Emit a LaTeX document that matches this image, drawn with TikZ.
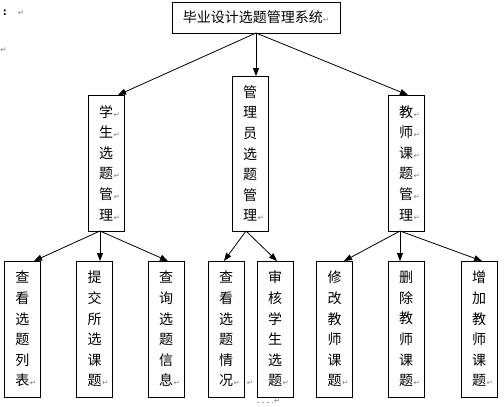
\documentclass[tikz,border=0pt]{standalone}
\usepackage{fontspec}
\newfontfamily\cjk{Noto Sans CJK SC}
\newfontfamily\djv{DejaVu Sans}
\usetikzlibrary{arrows.meta}
\newcommand\retmark{\rlap{\kern0.5pt\textcolor{gray}{\djv\fontsize{7.5}{7.5}\selectfont ↵}}}
\newcommand\retfree{\textcolor{gray}{\djv\fontsize{7.5}{7.5}\selectfont ↵}}
\tikzset{
  box/.style={draw, line width=0.8pt, minimum width=36pt, inner sep=0pt, outer sep=0pt,
    align=center, font=\cjk\fontsize{14}{20.6}\selectfont},
  arr/.style={line width=0.8pt, -{Triangle[length=8pt,width=6pt]}},
  fmtmark/.style={inner sep=0pt, outer sep=0pt}
}
\begin{document}
\begin{tikzpicture}[x=1pt,y=-1pt]
\useasboundingbox (0,0) rectangle (504,407);
% top
\node[box, minimum width=168pt, minimum height=31pt] (top) at (256,17.5) {毕业设计选题管理系统\retfree};
% second level
\node[box, minimum height=136pt] (stu) at (106,163) {学\retmark\\生\retmark\\选\\题\retmark\\管\retmark\\理\retmark};
\node[box, minimum height=155pt] (adm) at (250,153.5) {管\\理\\员\\选\\题\\管\\理\retmark};
\node[box, minimum height=136pt] (tea) at (406,163) {教\retmark\\师\retmark\\课\retmark\\题\retmark\\管\retmark\\理\retmark};
% third level
\node[box, minimum height=136pt] (b1) at (22.5,329) {查\\看\\选\\题\\列\\表\retmark};
\node[box, minimum height=136pt] (b2) at (94.5,329) {提\\交\\所\\选\\课\\题\retmark};
\node[box, minimum height=136pt] (b3) at (166,329) {查\\询\\选\\题\\信\\息\retmark};
\node[box, minimum height=136pt] (b4) at (226,329) {查\\看\\选\\题\\情\\况\retmark};
\node[box, minimum height=136pt] (b5) at (275,329) {审\\核\\学\\生\\选\\题\retmark};
\node[box, minimum height=136pt] (b6) at (334.5,329) {修\\改\\教\\师\\课\\题\retmark};
\node[box, minimum height=136pt] (b7) at (406,329) {删\\除\\教\\师\\课\\题\retmark};
\node[box, minimum height=136pt] (b8) at (479,329) {增\\加\\教\\师\\课\\题\retmark};
% arrows
\draw[arr] (top.south) -- ([xshift=12pt]stu.north);
\draw[arr] (top.south) -- ([xshift=6pt]adm.north);
\draw[arr] (top.south) -- ([xshift=2pt]tea.north);
\draw[arr] ([xshift=-6pt]stu.south) -- ([xshift=11.5pt]b1.north);
\draw[arr] ([xshift=-6pt]stu.south) -- ([xshift=5.5pt]b2.north);
\draw[arr] ([xshift=-6pt]stu.south) -- ([xshift=2pt]b3.north);
\draw[arr] ([xshift=-4pt]adm.south) -- ([xshift=-2pt]b4.north);
\draw[arr] ([xshift=-4pt]adm.south) -- ([xshift=2pt]b5.north);
\draw[arr] ([xshift=-6pt]tea.south) -- ([xshift=9.5pt]b6.north);
\draw[arr] ([xshift=-6pt]tea.south) -- ([xshift=-6pt]b7.north);
\draw[arr] ([xshift=-6pt]tea.south) -- ([xshift=3pt]b8.north);
% stray formatting marks
\node[fmtmark, font=\cjk\fontsize{10}{10}\selectfont\bfseries] (colon) at (5,13) {:};
\node[fmtmark] (m1) at (21,13) {\retfree};
\node[fmtmark, anchor=west] (m2) at (0.5,50) {\retfree};
\node[fmtmark] (m3) at (250,383) {\retfree};
\coordinate (d1) at (257,402);
\coordinate (d2) at (273,402);
\draw[gray!70, line width=0.7pt, dash pattern=on 2pt off 3pt] (d1) -- (d2);
\node[fmtmark] (m4) at (277,401) {\retfree};
\end{tikzpicture}
\end{document}
